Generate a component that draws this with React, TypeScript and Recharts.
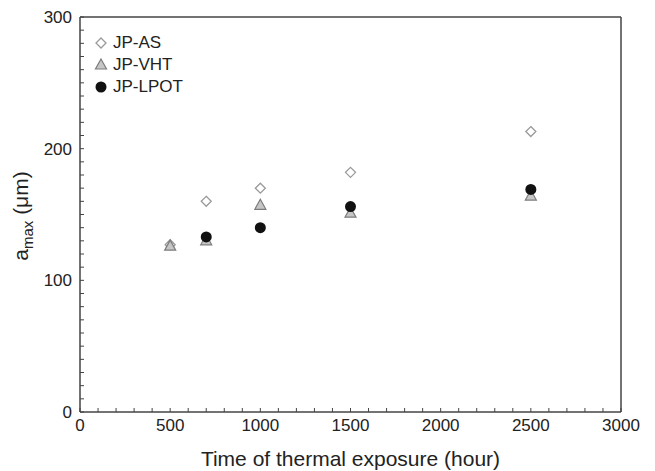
import React from 'react'
import { ScatterChart, Scatter, XAxis, YAxis, ReferenceLine } from 'recharts'

// values (hours, µm)
const timeAS = [500, 700, 1000, 1500, 2500]
const amaxAS = [127, 160, 170, 182, 213]
const timeVHT = [500, 700, 1000, 1500, 2500]
const amaxVHT = [126, 130, 157, 151, 164]
const timeLPOT = [700, 1000, 1500, 2500]
const amaxLPOT = [133, 140, 156, 169]

const seriesNames = ['JP-AS', 'JP-VHT', 'JP-LPOT']
const xTickLabels = [0, 500, 1000, 1500, 2000, 2500, 3000]
const yTickLabels = [0, 100, 200, 300]
const xMinorTicks = Array.from({ length: 31 }, (_, i) => i * 100)
const yMinorTicks = Array.from({ length: 31 }, (_, i) => i * 10)

const toPoints = (xs: number[], ys: number[]) => xs.map((x, i) => ({ x, y: ys[i] }))

const FONT = '"Liberation Sans", Arial, Helvetica, sans-serif'
const AXIS = '#444'

const Diamond = ({ cx, cy }: any) => (
    <polygon points={`${cx},${cy - 5} ${cx + 5},${cy} ${cx},${cy + 5} ${cx - 5},${cy}`}
        fill="#fff" stroke="#9a9a9a" strokeWidth={1.3} />
)
const Triangle = ({ cx, cy }: any) => (
    <polygon points={`${cx},${cy - 6} ${cx + 5.5},${cy + 4} ${cx - 5.5},${cy + 4}`}
        fill="#c6c6c6" stroke="#7c7c7c" strokeWidth={1.2} />
)
const Dot = ({ cx, cy }: any) => <circle cx={cx} cy={cy} r={5.5} fill="#111" />

const markers = [Diamond, Triangle, Dot]

function XTick({ x, y, payload }: any) {
    const v = payload.value
    return (
        <g>
            <line x1={x} x2={x} y1={y} y2={y - 4} stroke={AXIS} strokeWidth={1} />
            {xTickLabels.includes(v) && (
                <text x={x} y={y + 19} textAnchor="middle" fontSize={17} fontFamily={FONT} fill="#222">{v}</text>
            )}
        </g>
    )
}

function YTick({ x, y, payload }: any) {
    const v = payload.value
    return (
        <g>
            <line x1={x} x2={x + 4} y1={y} y2={y} stroke={AXIS} strokeWidth={1} />
            {yTickLabels.includes(v) && (
                <text x={x - 8} y={y} dy="0.36em" textAnchor="end" fontSize={17} fontFamily={FONT} fill="#222">{v}</text>
            )}
        </g>
    )
}

function LegendBox() {
    return (
        <div style={{ position: 'absolute', left: 94, top: 32, fontFamily: FONT, fontSize: 17, color: '#222' }}>
            {seriesNames.map((name, i) => {
                const M = markers[i]
                return (
                    <div key={name} style={{ display: 'flex', alignItems: 'center', height: 22 }}>
                        <svg width={14} height={14} style={{ marginRight: 5 }}>
                            <M cx={7} cy={7} />
                        </svg>
                        <span>{name}</span>
                    </div>
                )
            })}
        </div>
    )
}

function YLabel() {
    return (
        <text transform="rotate(-90, 28, 216)" x={28} y={216} textAnchor="middle" fontSize={21} fontFamily={FONT} fill="#222">
            a<tspan fontSize={15} dy={5}>max</tspan><tspan dy={-5}> (μm)</tspan>
        </text>
    )
}

export default function App() {
    return (
        <div style={{ position: 'absolute', left: 0, top: 0, width: 655, height: 471, background: '#fff' }}>
            <ScatterChart width={655} height={471} margin={{ top: 17, right: 34, bottom: 0, left: 0 }}>
                <XAxis type="number" dataKey="x" domain={[0, 3000]} ticks={xMinorTicks} interval={0}
                    tickSize={0} tickMargin={0} tickLine={false} tick={<XTick />}
                    axisLine={{ stroke: AXIS, strokeWidth: 1.5 }} height={59}
                    label={{ value: 'Time of thermal exposure (hour)', position: 'insideBottom', offset: 5, fontSize: 21, fontFamily: FONT, fill: '#222' }} />
                <YAxis type="number" dataKey="y" domain={[0, 300]} ticks={yMinorTicks} interval={0}
                    tickSize={0} tickMargin={0} tickLine={false} tick={<YTick />}
                    axisLine={{ stroke: AXIS, strokeWidth: 1.5 }} width={80} label={<YLabel />} />
                <ReferenceLine y={300} stroke={AXIS} strokeWidth={1.5} />
                <ReferenceLine x={3000} stroke={AXIS} strokeWidth={1.5} />
                <Scatter name={seriesNames[0]} data={toPoints(timeAS, amaxAS)} shape={(p: any) => <Diamond {...p} />} isAnimationActive={false} />
                <Scatter name={seriesNames[1]} data={toPoints(timeVHT, amaxVHT)} shape={(p: any) => <Triangle {...p} />} isAnimationActive={false} />
                <Scatter name={seriesNames[2]} data={toPoints(timeLPOT, amaxLPOT)} shape={(p: any) => <Dot {...p} />} isAnimationActive={false} />
            </ScatterChart>
            <LegendBox />
        </div>
    )
}
